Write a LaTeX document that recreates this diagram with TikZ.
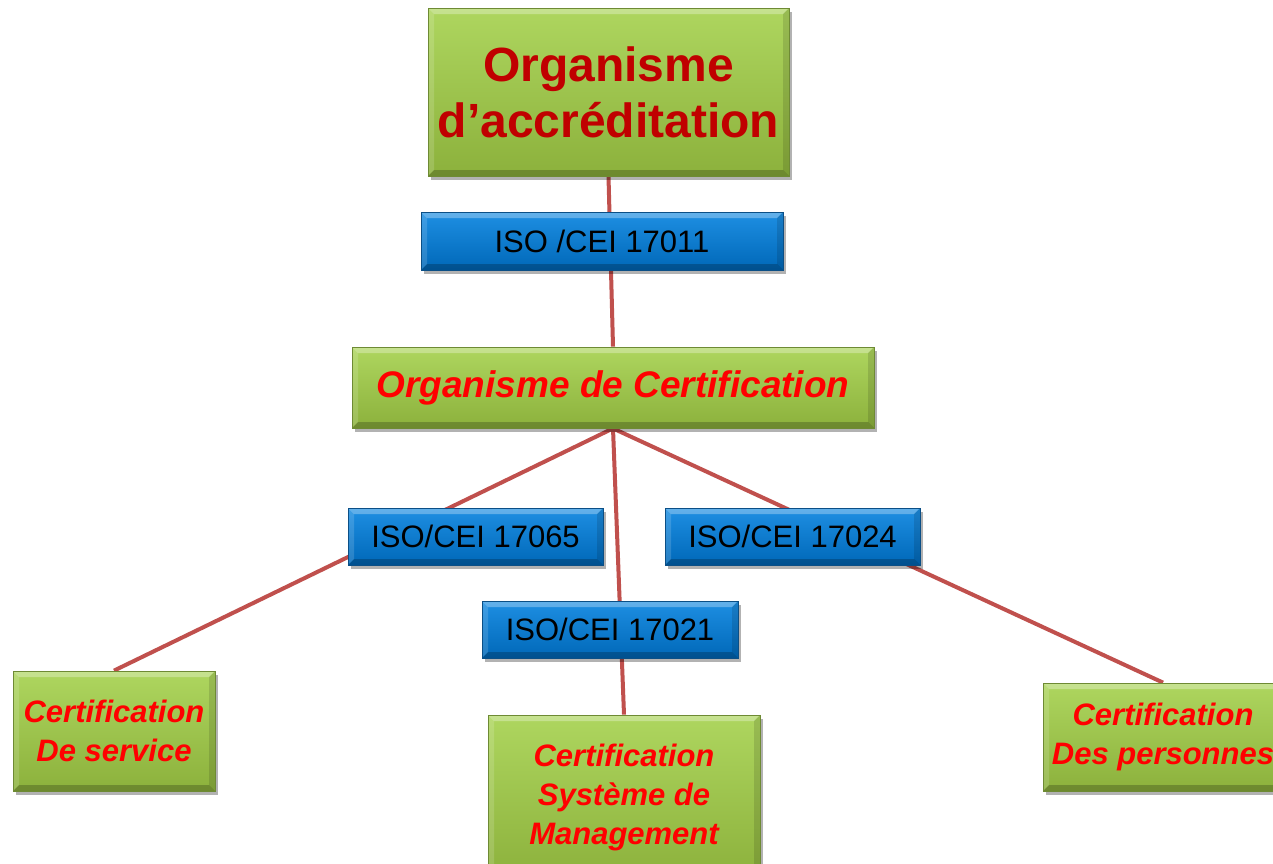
\documentclass[tikz,border=0pt]{standalone}
\usepackage{fontspec}
\setmainfont{Liberation Sans}
\usetikzlibrary{shadows}
\definecolor{greenT}{HTML}{AED65F}
\definecolor{greenB}{HTML}{8CB13C}
\definecolor{greenD}{HTML}{6E8A34}
\definecolor{blueT}{HTML}{1E8FE3}
\definecolor{blueB}{HTML}{0068B8}
\definecolor{blueD}{HTML}{0B4F86}
\definecolor{linkc}{HTML}{C0504D}
\definecolor{darkred}{HTML}{C00000}
\definecolor{brightred}{HTML}{FF0000}
\pgfdeclarelayer{bg}
\pgfsetlayers{bg,main}
\tikzset{
  bevel/.style={path picture={
    \coordinate (nw) at (path picture bounding box.north west);
    \coordinate (ne) at (path picture bounding box.north east);
    \coordinate (sw) at (path picture bounding box.south west);
    \coordinate (se) at (path picture bounding box.south east);
    \fill[white,opacity=.30] (nw) -- (ne) -- ([xshift=-6pt,yshift=-6pt]ne) -- ([xshift=6pt,yshift=-6pt]nw) -- cycle;
    \fill[white,opacity=.15] (nw) -- (sw) -- ([xshift=6pt,yshift=6pt]sw) -- ([xshift=6pt,yshift=-6pt]nw) -- cycle;
    \fill[black,opacity=.22] (sw) -- (se) -- ([xshift=-6pt,yshift=6pt]se) -- ([xshift=6pt,yshift=6pt]sw) -- cycle;
    \fill[black,opacity=.12] (ne) -- (se) -- ([xshift=-6pt,yshift=6pt]se) -- ([xshift=-6pt,yshift=-6pt]ne) -- cycle;
  }},
  gbox/.style={draw=greenD, line width=0.8pt, top color=greenT, bottom color=greenB,
    bevel, inner sep=0pt, align=center,
    drop shadow={shadow xshift=3pt, shadow yshift=-4pt, opacity=0.3, fill=black}},
  bbox/.style={draw=blueD, line width=0.8pt, top color=blueT, bottom color=blueB,
    bevel, inner sep=0pt, align=center, text=black,
    minimum width=255pt, minimum height=57pt,
    font=\fontsize{31}{36}\selectfont,
    drop shadow={shadow xshift=3pt, shadow yshift=-4pt, opacity=0.3, fill=black}},
  certtxt/.style={text=brightred, font=\fontsize{31}{39}\selectfont\bfseries\itshape},
  link/.style={draw=linkc, line width=4pt}
}
\begin{document}
\begin{tikzpicture}[x=1pt,y=-1pt]
\useasboundingbox (0,0) rectangle (1273,863);
\clip (0,0) rectangle (1273,863);

\node[gbox, minimum width=361pt, minimum height=168pt, text=darkred,
      font=\fontsize{48}{56}\selectfont\bfseries] (acc) at (608.5,92)
  {Organisme\\d’accréditation};

\node[bbox, minimum width=362pt, minimum height=58pt] (iso11) at (602,241) {ISO /CEI 17011};

\node[gbox, minimum width=522pt, minimum height=81pt, text=brightred,
      font=\fontsize{37}{42}\selectfont\bfseries\itshape] (oc) at (613,387.5)
  {Organisme de Certification};

\node[bbox] (iso65) at (475.5,536.5) {ISO/CEI 17065};
\node[bbox] (iso24) at (792.5,536.5) {ISO/CEI 17024};
\node[bbox, minimum width=256pt] (iso21) at (610,629.5) {ISO/CEI 17021};

\node[gbox, certtxt, minimum width=202pt, minimum height=120pt] (serv) at (114,731)
  {Certification\\De service};
\node[gbox, certtxt, minimum width=272pt, minimum height=164pt] (sys) at (624,797)
  {Certification\\Système de\\Management};
\node[gbox, certtxt, minimum width=240pt, minimum height=108pt] (pers) at (1163,737)
  {Certification\\Des personnes};

\begin{pgfonlayer}{bg}
  \fill[white] (0,0) rectangle (1273,863);
  \draw[link] (acc.south) -- (oc.north);
  \draw[link] (oc.south) -- (serv.north);
  \draw[link] (oc.south) -- (sys.north);
  \draw[link] (oc.south) -- (pers.north);
\end{pgfonlayer}
\end{tikzpicture}
\end{document}
